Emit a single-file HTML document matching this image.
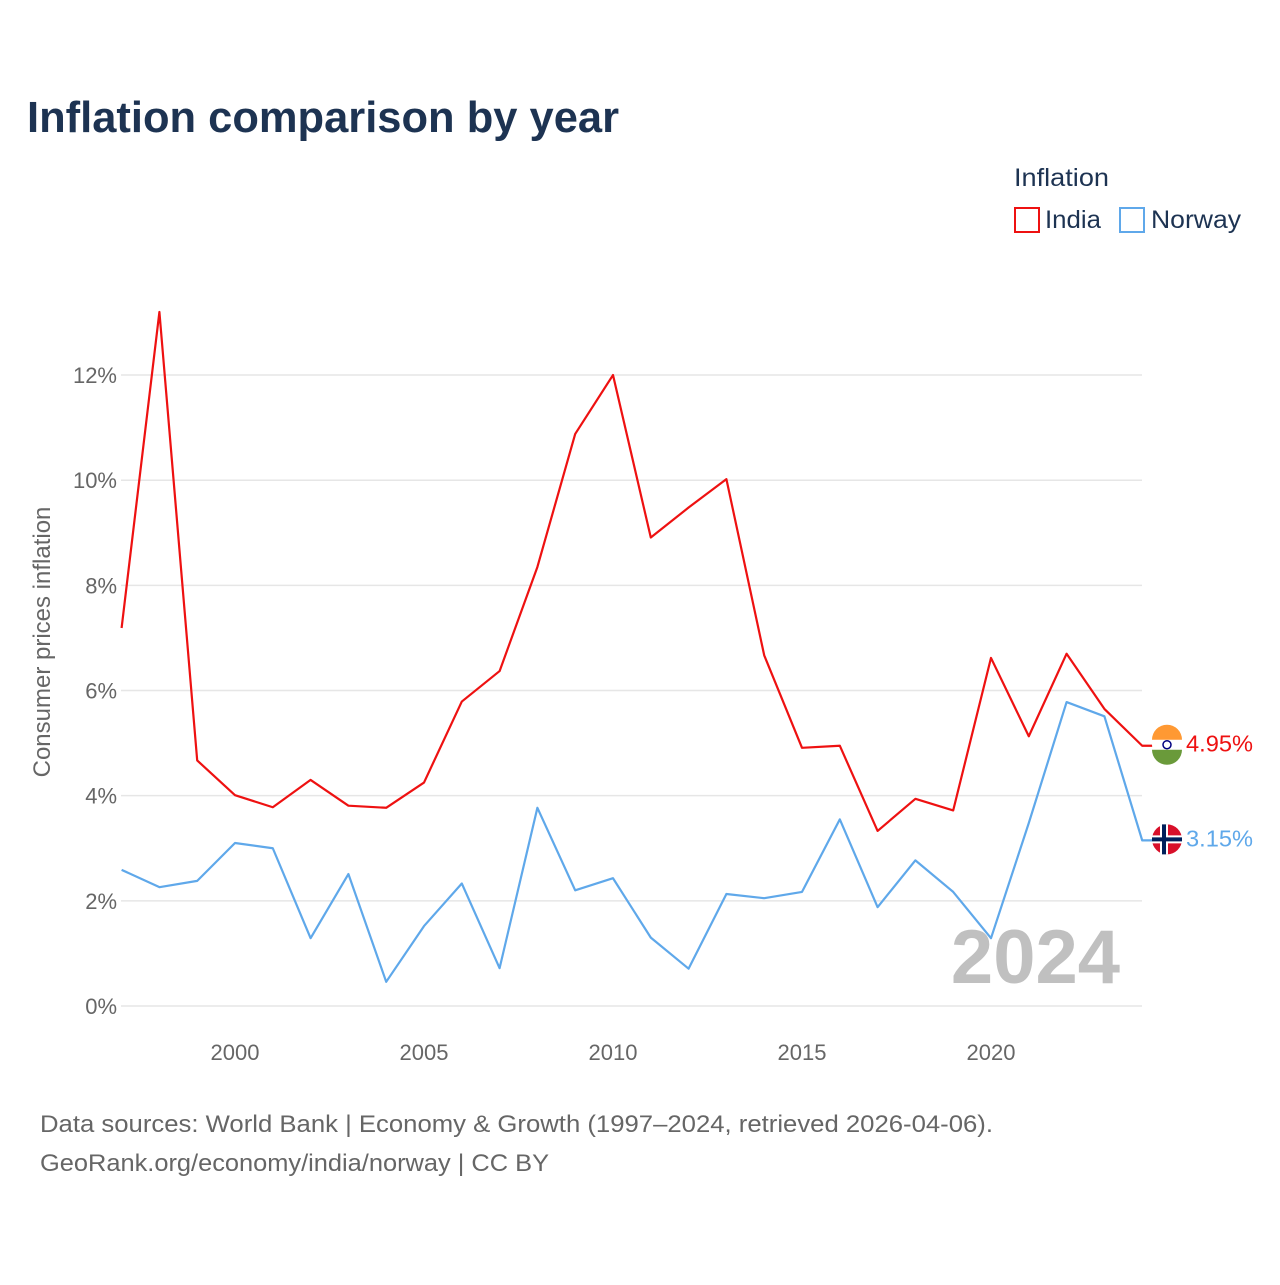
<!DOCTYPE html>
<html><head><meta charset="utf-8"><style>
body{margin:0;background:#fff;font-family:"Liberation Sans",sans-serif;}
#wrap{position:relative;width:1280px;height:1280px;}
</style></head><body>
<div id="wrap">
<svg id="chart" width="1280" height="1280" xmlns="http://www.w3.org/2000/svg">
<text x="27" y="132" font-size="44" font-weight="bold" fill="#1d3352" textLength="592" lengthAdjust="spacingAndGlyphs">Inflation comparison by year</text>
<text x="1014" y="186" font-size="25" fill="#1d3352" textLength="95" lengthAdjust="spacingAndGlyphs">Inflation</text>
<g><rect x="1015" y="208" width="24" height="24" fill="none" stroke="#ee1111" stroke-width="2"/><text x="1045" y="228" font-size="25" fill="#1d3352" textLength="56" lengthAdjust="spacingAndGlyphs">India</text></g>
<g><rect x="1120" y="208" width="24" height="24" fill="none" stroke="#5fa8ea" stroke-width="2"/><text x="1151" y="228" font-size="25" fill="#1d3352" textLength="90" lengthAdjust="spacingAndGlyphs">Norway</text></g>
<text transform="translate(50,642) rotate(-90)" text-anchor="middle" font-size="24" fill="#666">Consumer prices inflation</text>
<g id="grid"></g><g id="series"></g>
<text x="1120" y="983" text-anchor="end" font-size="76" font-weight="bold" fill="#c0c0c0">2024</text>
<text x="40" y="1132" font-size="24" fill="#666" textLength="953" lengthAdjust="spacingAndGlyphs">Data sources: World Bank | Economy &amp; Growth (1997–2024, retrieved 2026-04-06).</text>
<text x="40" y="1171" font-size="24" fill="#666" textLength="509" lengthAdjust="spacingAndGlyphs">GeoRank.org/economy/india/norway | CC BY</text>
</svg></div>
<script>
const years=[1997,1998,1999,2000,2001,2002,2003,2004,2005,2006,2007,2008,2009,2010,2011,2012,2013,2014,2015,2016,2017,2018,2019,2020,2021,2022,2023,2024];
const india=[7.19,13.2,4.67,4.01,3.78,4.30,3.81,3.77,4.25,5.79,6.37,8.35,10.88,12.0,8.91,9.48,10.02,6.67,4.91,4.95,3.33,3.94,3.72,6.62,5.13,6.70,5.65,4.95];
const norway=[2.59,2.26,2.38,3.10,3.00,1.29,2.51,0.46,1.52,2.33,0.72,3.77,2.20,2.43,1.30,0.71,2.13,2.05,2.17,3.55,1.88,2.77,2.17,1.29,3.48,5.78,5.51,3.15];
const yTicks=[0,2,4,6,8,10,12];
const xTicks=[2000,2005,2010,2015,2020];
const NS="http://www.w3.org/2000/svg";
const X=y=>121.6+(y-1997)*37.8;
const Y=v=>1006-v*52.58;
const grid=document.getElementById('grid'),ser=document.getElementById('series');
function mk(tag,attrs,parent,txt){const e=document.createElementNS(NS,tag);for(const k in attrs)e.setAttribute(k,attrs[k]);if(txt!==undefined)e.textContent=txt;parent.appendChild(e);return e;}
yTicks.forEach(t=>{
 const l=mk('line',{x1:121,x2:1142,y1:Y(t),y2:Y(t),stroke:'#e6e6e6','stroke-width':1.5},grid);
 
 
 const tx=mk('text',{x:117,y:Y(t)+8,'text-anchor':'end','font-size':22,fill:'#666'},grid,t+'%');
 
 
});
xTicks.forEach(t=>{
 const tx=mk('text',{x:X(t),y:1060,'text-anchor':'middle','font-size':22,fill:'#666'},grid,String(t));
 
 
});
function series(vals,color,name,flag){
 const pts=vals.map((v,i)=>X(years[i])+','+Y(v)).join(' ');
 const last=vals[vals.length-1];
 const p=mk('polyline',{points:pts+' '+(X(2024)+12)+','+Y(last),fill:'none',stroke:color,'stroke-width':2.2,'stroke-linejoin':'round'},ser);
 
 
 const g=mk('g',{},ser);
 
 
 const cy=Y(last)-1,cx=1167;
 if(flag==='in'){
  mk('circle',{cx:cx,cy:cy,r:15,fill:'#fff'},g);
  mk('path',{d:`M${cx-15},${cy-5} A15,15 0 0 1 ${cx+15},${cy-5} Z`,fill:'#ff9933'},g);
  mk('path',{d:`M${cx-15},${cy+5} A15,15 0 0 0 ${cx+15},${cy+5} Z`,fill:'#6a9a3a'},g);
  mk('circle',{cx:cx,cy:cy,r:4,fill:'none',stroke:'#000080','stroke-width':1.5},g);
 } else {
  mk('circle',{cx:cx,cy:cy,r:15,fill:'#d8102a'},g);
  mk('rect',{x:cx-15,y:cy-4,width:30,height:8,fill:'#fff'},g);
  mk('rect',{x:cx-7,y:cy-15,width:8,height:30,fill:'#fff'},g);
  mk('rect',{x:cx-15,y:cy-2,width:30,height:4,fill:'#00205b'},g);
  mk('rect',{x:cx-5,y:cy-15,width:4,height:30,fill:'#00205b'},g);
 }
 const t=mk('text',{x:1186,y:cy+7,'font-size':23,fill:color,textLength:67,lengthAdjust:'spacingAndGlyphs'},ser,last.toFixed(2)+'%');
 
 
}
series(norway,'#5fa8ea','norway','no');
series(india,'#ee1111','india','in');
</script>
</body></html>
